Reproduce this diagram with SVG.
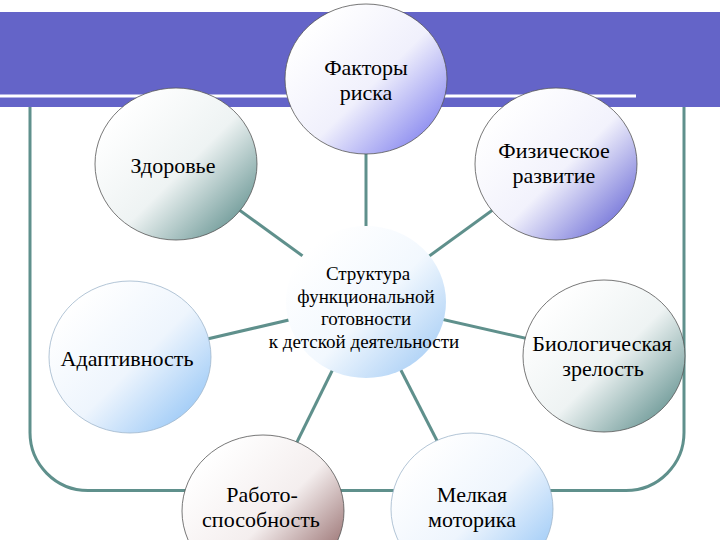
<svg xmlns="http://www.w3.org/2000/svg" width="720" height="540" viewBox="0 0 720 540">
<style>
.t{font-family:"Liberation Serif","DejaVu Serif",serif;font-size:22px;fill:#000;text-anchor:middle}
.c{font-size:19px}
.ln{stroke:#5F908C;stroke-width:3;fill:none}
.bd{stroke:#555;stroke-width:0.8}
.bl{stroke:#9fb6cc;stroke-width:0.8}
</style>
<defs>
<linearGradient id="gBlue" x1="0.15" y1="0.15" x2="0.95" y2="0.9">
<stop offset="0" stop-color="#ffffff"/><stop offset="0.5" stop-color="#f2f2fc"/><stop offset="1" stop-color="#6a6ad6"/>
</linearGradient>
<linearGradient id="gTop" x1="0.15" y1="0.15" x2="0.95" y2="0.9">
<stop offset="0" stop-color="#ffffff"/><stop offset="0.5" stop-color="#f0f0fc"/><stop offset="1" stop-color="#8080ee"/>
</linearGradient>
<linearGradient id="gTeal" x1="0.15" y1="0.15" x2="0.95" y2="0.9">
<stop offset="0" stop-color="#ffffff"/><stop offset="0.5" stop-color="#eef3f3"/><stop offset="1" stop-color="#62918f"/>
</linearGradient>
<linearGradient id="gLight" x1="0.15" y1="0.15" x2="0.95" y2="0.9">
<stop offset="0" stop-color="#ffffff"/><stop offset="0.5" stop-color="#eef5fd"/><stop offset="1" stop-color="#96c6f6"/>
</linearGradient>
<linearGradient id="gRed" x1="0.15" y1="0.15" x2="0.95" y2="0.9">
<stop offset="0" stop-color="#ffffff"/><stop offset="0.5" stop-color="#f4eeee"/><stop offset="1" stop-color="#8e6262"/>
</linearGradient>
<linearGradient id="gCenter" x1="0.15" y1="0.15" x2="0.95" y2="0.9">
<stop offset="0" stop-color="#ffffff"/><stop offset="0.5" stop-color="#f2f8fe"/><stop offset="1" stop-color="#a6cdf5"/>
</linearGradient>
</defs>
<rect width="720" height="540" fill="#ffffff"/>
<g id="frame">
<path class="ln" d="M30,104 V432 A58,58 0 0 0 88,490.5 H626 A58,58 0 0 0 684,432 V104" stroke-width="4"/>
</g>
<g id="band">
<rect x="0" y="12" width="720" height="95" fill="#6464C8"/>
<rect x="0" y="94.5" width="636" height="3" fill="#ffffff"/>
</g>
<g id="connectors">
<line class="ln" x1="366" y1="79" x2="366" y2="302"/>
<line class="ln" x1="176" y1="164" x2="366" y2="302"/>
<line class="ln" x1="556" y1="164" x2="366" y2="302"/>
<line class="ln" x1="130" y1="357" x2="366" y2="302"/>
<line class="ln" x1="604" y1="356" x2="366" y2="302"/>
<line class="ln" x1="263" y1="511" x2="366" y2="302"/>
<line class="ln" x1="472" y1="509" x2="366" y2="302"/>
</g>
<g id="n-top">
<ellipse class="bd" cx="366" cy="79" rx="81" ry="75" fill="url(#gTop)"/>
<text class="t" x="366" y="75">Факторы</text>
<text class="t" x="366" y="100">риска</text>
</g>
<g id="n-health">
<ellipse class="bd" cx="176" cy="164" rx="81" ry="76" fill="url(#gTeal)"/>
<text class="t" x="173" y="173">Здоровье</text>
</g>
<g id="n-phys">
<ellipse class="bd" cx="556" cy="164" rx="81" ry="76" fill="url(#gBlue)"/>
<text class="t" x="554" y="158">Физическое</text>
<text class="t" x="554" y="183">развитие</text>
</g>
<g id="n-adapt">
<ellipse class="bl" cx="130" cy="357" rx="81" ry="76" fill="url(#gLight)"/>
<text class="t" x="127" y="366">Адаптивность</text>
</g>
<g id="n-bio">
<ellipse class="bd" cx="604" cy="356" rx="81" ry="76" fill="url(#gTeal)"/>
<text class="t" x="602" y="351">Биологическая</text>
<text class="t" x="603" y="376">зрелость</text>
</g>
<g id="n-work">
<ellipse class="bd" cx="263" cy="511" rx="81" ry="76" fill="url(#gRed)"/>
<text class="t" x="262" y="502">Работо-</text>
<text class="t" x="261" y="527">способность</text>
</g>
<g id="n-motor">
<ellipse class="bl" cx="472" cy="509" rx="81" ry="76" fill="url(#gLight)"/>
<text class="t" x="472" y="502">Мелкая</text>
<text class="t" x="472" y="527">моторика</text>
</g>
<g id="n-center">
<ellipse cx="366" cy="302" rx="80" ry="76" fill="url(#gCenter)"/>
<text class="t c" x="368" y="280">Структура</text>
<text class="t c" x="366" y="303">функциональной</text>
<text class="t c" x="366" y="325">готовности</text>
<text class="t c" x="364" y="348">к детской деятельности</text>
</g>
</svg>
